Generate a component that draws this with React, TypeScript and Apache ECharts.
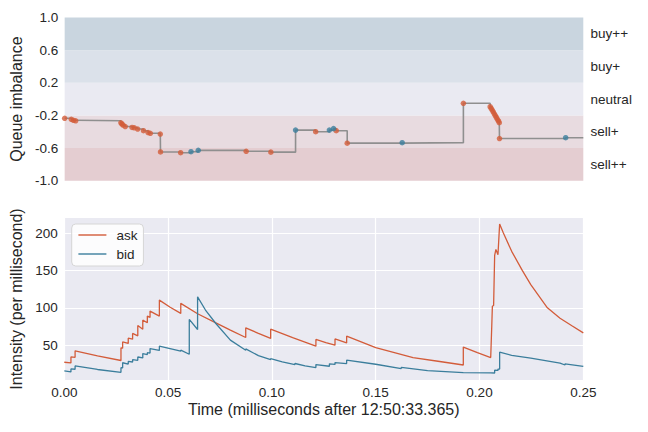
import React, { useEffect, useRef } from 'react';
import * as echarts from 'echarts';

// ---------- data ----------
const bandLabels = ['sell++', 'sell+', 'neutral', 'buy+', 'buy++'];
const bandEdges = [-1.0, -0.6, -0.2, 0.2, 0.6, 1.0];
const bandColors = ['#e4cdd1', '#e8dbe0', '#eaeaf2', '#dbe1ea', '#c9d5df'];

const eventTimes = [
  0.0, 0.0032, 0.0042, 0.0053, 0.0271, 0.0276, 0.0281, 0.0292, 0.0325, 0.0336,
  0.0352, 0.038, 0.0402, 0.0413, 0.0461, 0.0462, 0.0559, 0.0609, 0.0644, 0.0875,
  0.0994, 0.1113, 0.121, 0.1276, 0.1296, 0.1309, 0.1362, 0.1627, 0.1922, 0.2051,
  0.2056, 0.2061, 0.2066, 0.2071, 0.2076, 0.2081, 0.2086, 0.2091, 0.2095, 0.2096,
  0.2415,
];
const eventImbalance = [
  -0.235, -0.248, -0.26, -0.266, -0.29, -0.305, -0.318, -0.336, -0.347, -0.352,
  -0.367, -0.387, -0.41, -0.419, -0.428, -0.648, -0.657, -0.645, -0.628, -0.64,
  -0.65, -0.38, -0.4, -0.38, -0.362, -0.387, -0.54, -0.534, -0.051, -0.093,
  -0.115, -0.135, -0.158, -0.18, -0.202, -0.225, -0.248, -0.268, -0.289, -0.483,
  -0.473,
];
const eventSide = [
  'ask', 'ask', 'ask', 'ask', 'ask', 'ask', 'ask', 'ask', 'ask', 'ask',
  'ask', 'ask', 'ask', 'ask', 'ask', 'ask', 'ask', 'bid', 'bid', 'ask',
  'ask', 'bid', 'ask', 'bid', 'bid', 'ask', 'ask', 'bid', 'ask', 'ask',
  'ask', 'ask', 'ask', 'ask', 'ask', 'ask', 'ask', 'ask', 'ask', 'ask',
  'bid',
];
const endTime = 0.25;

const askTimes = [
  0, 0.0032, 0.0032, 0.0052, 0.0052, 0.016, 0.0273, 0.0273, 0.0281, 0.0281,
  0.0308, 0.0308, 0.0329, 0.0329, 0.0354, 0.0354, 0.0378, 0.0378, 0.04, 0.04,
  0.0413, 0.0413, 0.0458, 0.0458, 0.051, 0.0561, 0.0561, 0.0642, 0.073, 0.08,
  0.0874, 0.0874, 0.0935, 0.0994, 0.0994, 0.11, 0.1212, 0.1212, 0.126, 0.1304,
  0.1304, 0.136, 0.136, 0.15, 0.168, 0.18, 0.1922, 0.1922, 0.199, 0.2054,
  0.2059, 0.2062, 0.2068, 0.2073, 0.2079, 0.2089, 0.2097, 0.2115, 0.2155, 0.2206,
  0.2247, 0.2327, 0.2388, 0.2445, 0.25,
];
const askIntensity = [
  27.2, 26.3, 34.3, 33.8, 42.4, 35.6, 29.5, 46.4, 46.0, 54.4,
  52.3, 59.4, 58.0, 65.7, 62.5, 76.4, 71.4, 83.5, 80.0, 89.0,
  87.1, 95.6, 88.9, 110.3, 100.8, 92.5, 105.9, 92.0, 79.9, 70.1,
  60.3, 73.2, 65.8, 59.0, 71.4, 60.0, 48.7, 57.6, 53.5, 50.0,
  58.4, 53.0, 62.0, 46.8, 33.4, 28.5, 23.5, 47.5, 40.0, 33.5,
  75, 102, 103, 170, 178, 171, 212, 200, 175.5, 150,
  131, 100, 86, 76, 66.5,
];

const bidTimes = [
  0, 0.0032, 0.0032, 0.0052, 0.0052, 0.016, 0.0273, 0.0273, 0.0281, 0.0281,
  0.0308, 0.0308, 0.0329, 0.0329, 0.0354, 0.0354, 0.0378, 0.0378, 0.04, 0.04,
  0.0413, 0.0413, 0.0458, 0.0458, 0.0561, 0.0561, 0.0602, 0.0602, 0.0642, 0.0642,
  0.068, 0.073, 0.08, 0.0874, 0.0874, 0.0935, 0.0994, 0.0994, 0.105, 0.1111,
  0.1111, 0.116, 0.1212, 0.1212, 0.1277, 0.1277, 0.1304, 0.1304, 0.136, 0.136,
  0.15, 0.1623, 0.1623, 0.175, 0.1922, 0.1922, 0.2054, 0.2073, 0.2073, 0.2089,
  0.2089, 0.2097, 0.2097, 0.2155, 0.2247, 0.2388, 0.2412, 0.2412, 0.25,
];
const bidIntensity = [
  15.6, 14.3, 18.3, 17.8, 22.2, 17.5, 13.7, 19.8, 19.6, 26.5,
  24.7, 28.3, 27.5, 30.6, 29.8, 34.2, 33.0, 38.8, 37.5, 40.0,
  39.5, 45.5, 43.0, 48.7, 41.9, 43.3, 37.9, 84.4, 71.0, 114.7,
  97.0, 79.0, 56.7, 43.3, 45.0, 36.0, 30.8, 32.0, 27.8, 24.1,
  25.5, 22.3, 20.1, 24.0, 21.8, 25.0, 24.3, 26.7, 25.4, 29.9,
  24.5, 18.7, 20.3, 16.0, 13.4, 13.8, 12.9, 12.8, 16.5, 16.2,
  18.0, 18.0, 40.6, 36.5, 32.7, 26.0, 23.5, 25.0, 21.6,
];

// ---------- styles ----------
const FONT = '"Liberation Sans", Arial, Helvetica, sans-serif';
const TEXT = '#262626';
const ASK_COLOR = '#d35c3a';
const BID_COLOR = '#3b7e9c';

export default function App() {
  const ref = useRef<HTMLDivElement>(null);

  useEffect(() => {
    if (!ref.current) return;
    const chart = echarts.init(ref.current, undefined, { renderer: 'svg' });

    const stepData = eventTimes.map((t, i) => [t, eventImbalance[i]]);
    stepData.push([endTime, eventImbalance[eventImbalance.length - 1]]);
    const askEvents = eventTimes
      .map((t, i) => [t, eventImbalance[i], eventSide[i]])
      .filter((d) => d[2] === 'ask')
      .map((d) => [d[0], d[1]]);
    const bidEvents = eventTimes
      .map((t, i) => [t, eventImbalance[i], eventSide[i]])
      .filter((d) => d[2] === 'bid')
      .map((d) => [d[0], d[1]]);

    const gridLeft = 64.3;
    const gridWidth = 519;

    const option: any = {
      animation: false,
      textStyle: { fontFamily: FONT, color: TEXT },
      grid: [
        { left: gridLeft, top: 17.5, width: gridWidth, height: 163.2, show: false },
        {
          left: gridLeft, top: 217.3, width: gridWidth, height: 163.4,
          show: true, backgroundColor: '#eaeaf2', borderWidth: 0,
        },
      ],
      legend: {
        data: ['ask', 'bid'],
        orient: 'vertical',
        left: 71.7,
        top: 224,
        itemWidth: 28,
        itemHeight: 14,
        itemGap: 5,
        padding: [4, 6, 5, 6],
        backgroundColor: 'rgba(255,255,255,0.85)',
        borderColor: '#d6d6d6',
        borderWidth: 1,
        borderRadius: 4,
        itemStyle: { opacity: 0 },
        lineStyle: { width: 1.4 },
        textStyle: { fontFamily: FONT, fontSize: 13.5, color: TEXT, padding: [0, 0, 0, 5] },
      },
      xAxis: [
        {
          gridIndex: 0, type: 'value', min: 0, max: 0.25, interval: 0.05,
          axisLine: { show: false }, axisTick: { show: false }, axisLabel: { show: false },
          splitLine: { show: true, lineStyle: { color: '#ffffff', width: 1.2 } },
        },
        {
          gridIndex: 1, type: 'value', min: 0, max: 0.25, interval: 0.05,
          axisLine: { show: false }, axisTick: { show: false },
          axisLabel: {
            margin: 5, fontSize: 13.5, color: TEXT, fontFamily: FONT,
            formatter: (v: number) => v.toFixed(2),
          },
          splitLine: { show: true, lineStyle: { color: '#ffffff', width: 1.2 } },
          name: 'Time (milliseconds after 12:50:33.365)',
          nameLocation: 'middle',
          nameGap: 20.5,
          nameTextStyle: { fontSize: 16, color: TEXT, fontFamily: FONT },
        },
      ],
      yAxis: [
        {
          gridIndex: 0, type: 'value', min: -1, max: 1, interval: 0.4,
          axisLine: { show: false }, axisTick: { show: false },
          axisLabel: {
            margin: 6.5, fontSize: 13.5, color: TEXT, fontFamily: FONT,
            formatter: (v: number) => (Math.abs(v) < 1e-9 ? 0 : v).toFixed(1),
          },
          splitLine: { show: true, lineStyle: { color: '#ffffff', width: 1.2 } },
          name: 'Queue imbalance',
          nameLocation: 'middle',
          nameGap: 36,
          nameTextStyle: { fontSize: 16, color: TEXT, fontFamily: FONT },
        },
        {
          gridIndex: 0, type: 'category', position: 'right', data: bandLabels,
          axisLine: { show: false }, axisTick: { show: false },
          splitLine: { show: false },
          axisLabel: { margin: 7.3, fontSize: 13.5, color: TEXT, fontFamily: FONT },
        },
        {
          gridIndex: 1, type: 'value', min: 2.5, max: 221,
          axisLine: { show: false }, axisTick: { show: false },
          axisLabel: {
            margin: 6.5, fontSize: 13.5, color: TEXT, fontFamily: FONT,
            showMinLabel: false, showMaxLabel: false,
          },
          splitLine: { show: true, lineStyle: { color: '#ffffff', width: 1.2 } },
          name: 'Intensity (per millisecond)',
          nameLocation: 'middle',
          nameGap: 36,
          nameTextStyle: { fontSize: 16, color: TEXT, fontFamily: FONT },
        },
      ],
      series: [
        {
          name: 'bands', type: 'line', xAxisIndex: 0, yAxisIndex: 0,
          data: [[0, 0]], symbol: 'none', lineStyle: { opacity: 0 }, z: -1, silent: true,
          markArea: {
            silent: true,
            data: bandLabels.map((_, i) => [
              { yAxis: bandEdges[i], itemStyle: { color: bandColors[i] } },
              { yAxis: bandEdges[i + 1] },
            ]),
          },
        },
        {
          name: 'imbalance', type: 'line', xAxisIndex: 0, yAxisIndex: 0,
          data: stepData, step: 'end', symbol: 'none', z: 3,
          lineStyle: { color: '#8f8f8f', width: 1.6 },
        },
        {
          name: 'askEvents', type: 'scatter', xAxisIndex: 0, yAxisIndex: 0,
          data: askEvents, symbolSize: 5.5, z: 4,
          itemStyle: { color: ASK_COLOR },
        },
        {
          name: 'bidEvents', type: 'scatter', xAxisIndex: 0, yAxisIndex: 0,
          data: bidEvents, symbolSize: 5.5, z: 4,
          itemStyle: { color: BID_COLOR },
        },
        {
          name: 'ask', type: 'line', xAxisIndex: 1, yAxisIndex: 2,
          data: askTimes.map((t, i) => [t, askIntensity[i]]),
          symbol: 'none', color: ASK_COLOR,
          lineStyle: { color: ASK_COLOR, width: 1.3 },
        },
        {
          name: 'bid', type: 'line', xAxisIndex: 1, yAxisIndex: 2,
          data: bidTimes.map((t, i) => [t, bidIntensity[i]]),
          symbol: 'none', color: BID_COLOR,
          lineStyle: { color: BID_COLOR, width: 1.3 },
        },
      ],
    };

    chart.setOption(option);
    return () => chart.dispose();
  }, []);

  return (
    <div
      ref={ref}
      style={{ position: 'fixed', left: 0, top: 0, width: 648, height: 432, background: '#ffffff' }}
    />
  );
}
